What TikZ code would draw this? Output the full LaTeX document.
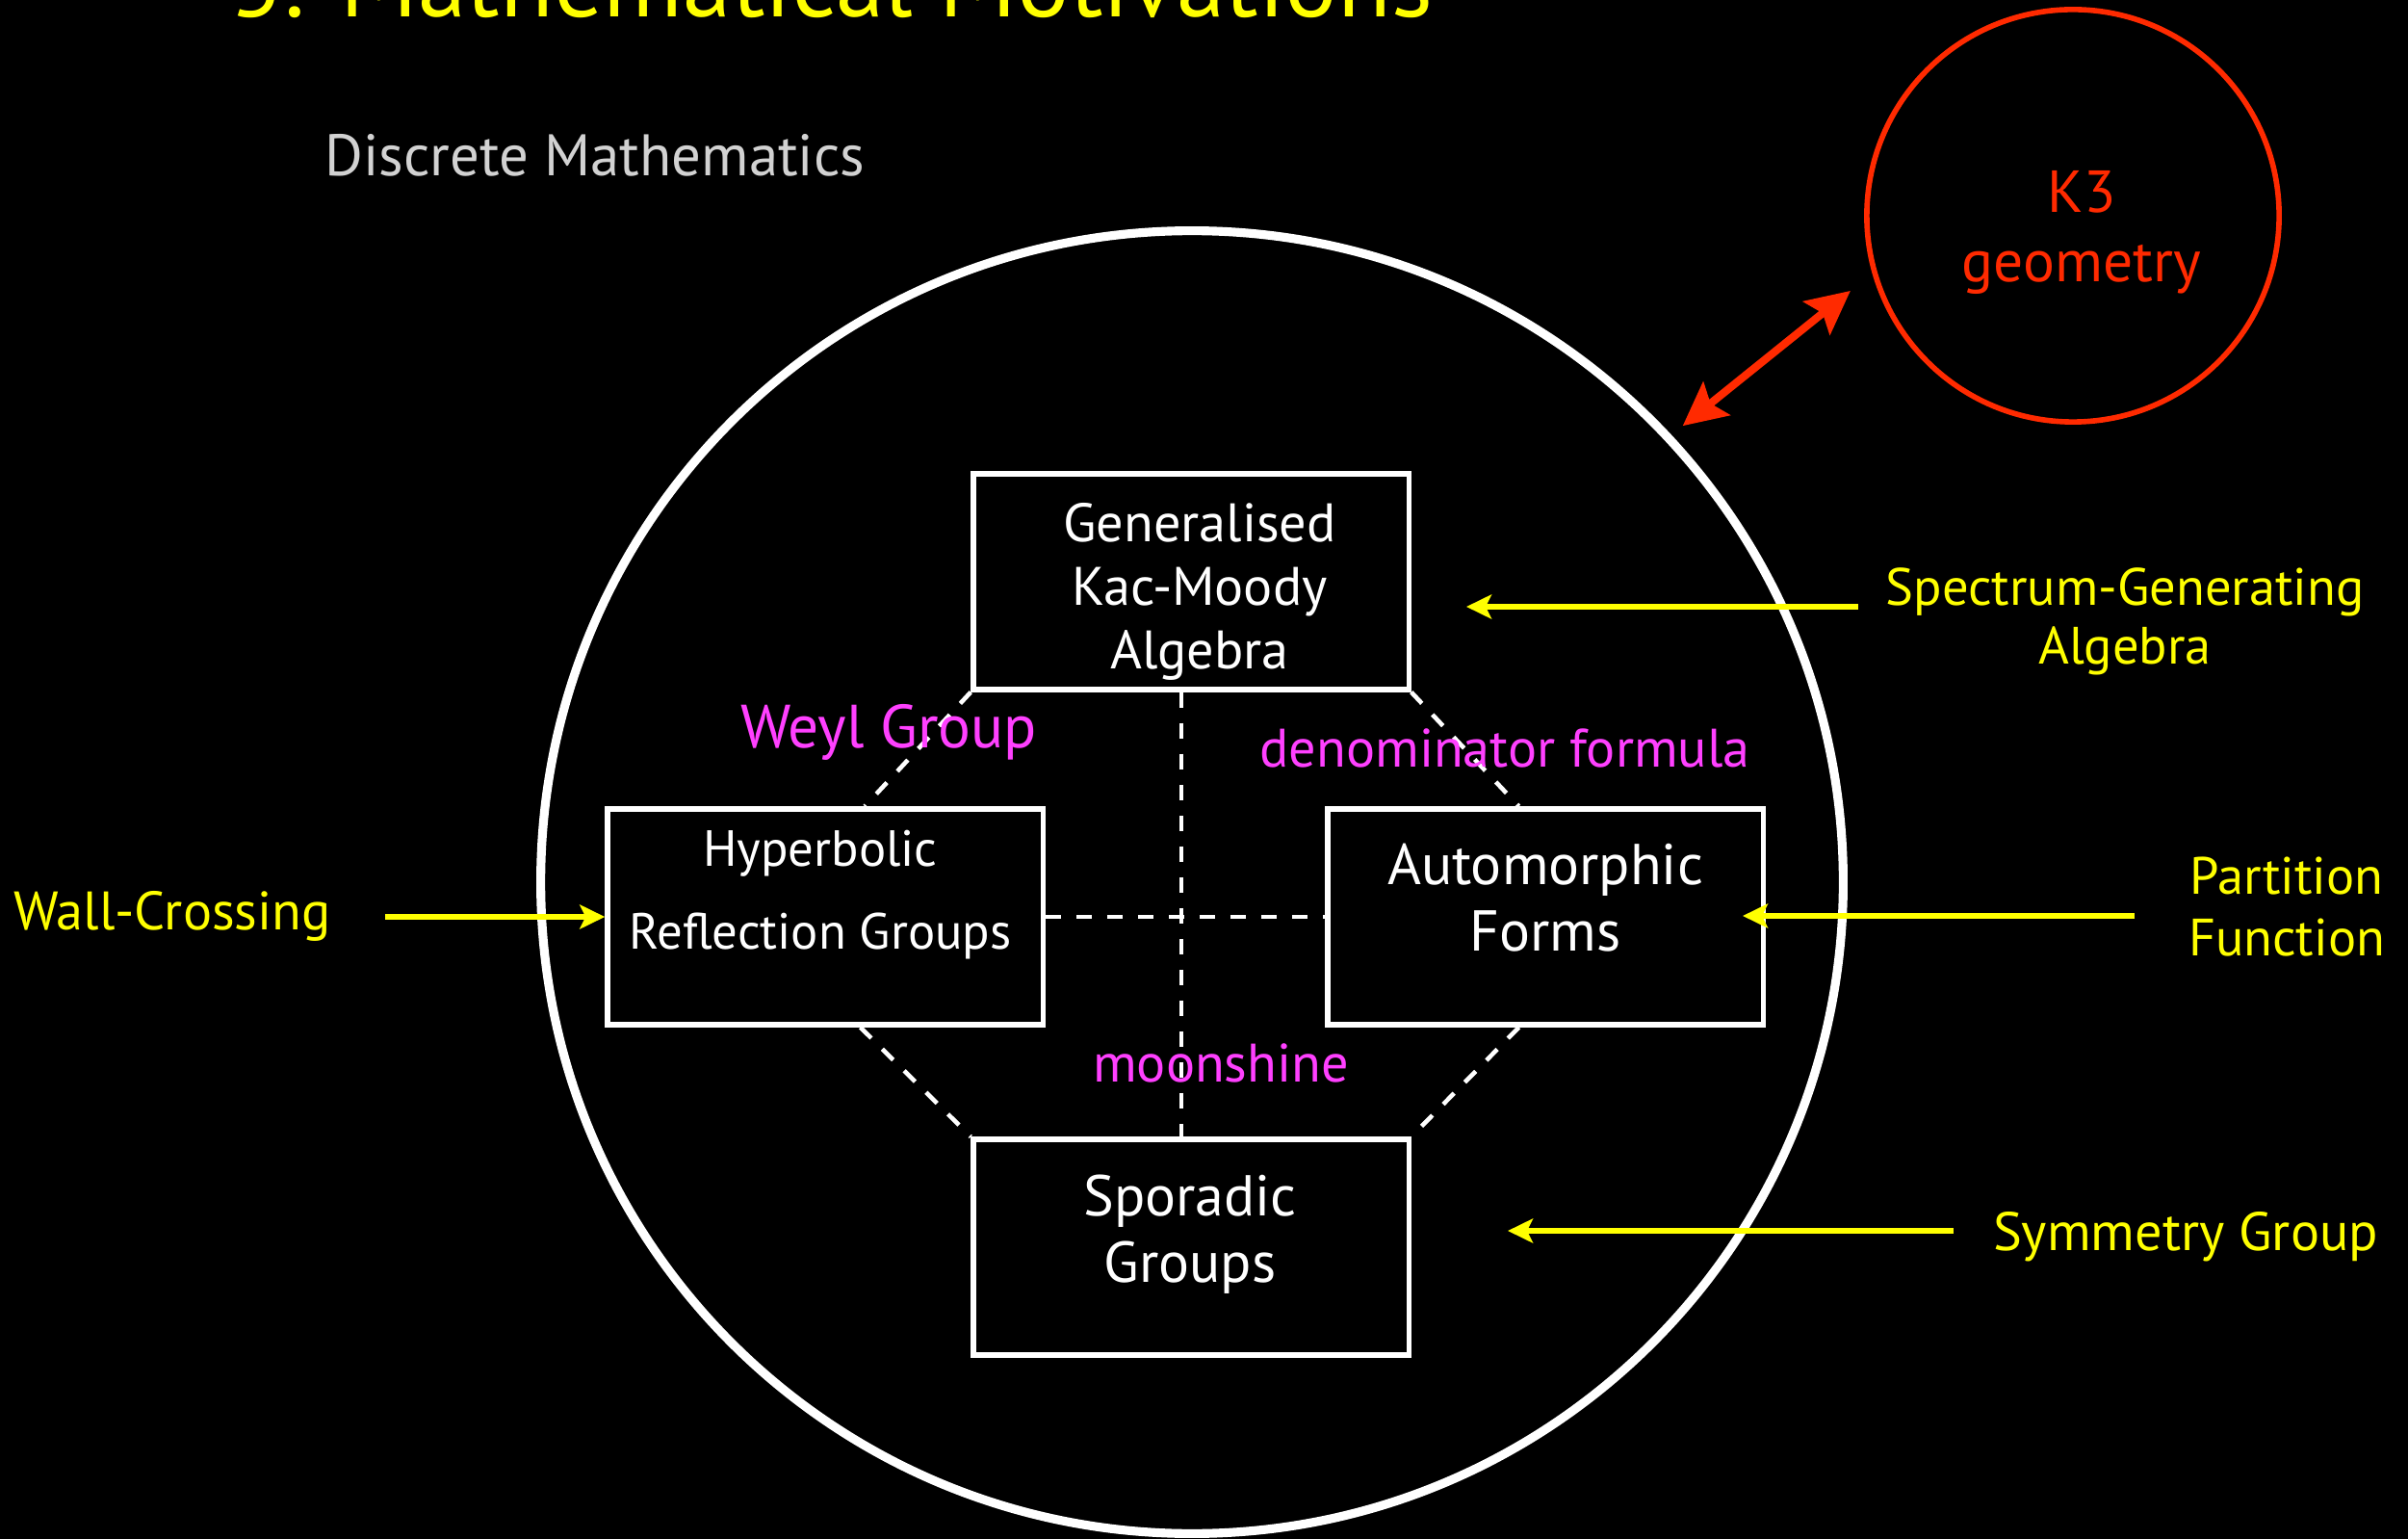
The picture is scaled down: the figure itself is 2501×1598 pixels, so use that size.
\documentclass[tikz,border=0pt]{standalone}
\usepackage{fontspec}
\setmainfont{PT Sans}
\usetikzlibrary{arrows.meta,calc}

\definecolor{giallo}{HTML}{FFFF00}
\definecolor{fucsia}{HTML}{FF40FF}
\definecolor{rosso}{HTML}{FF2A00}
\definecolor{grigio}{HTML}{D2D2D2}

\begin{document}
\begin{tikzpicture}[x=0.01cm, y=-0.01cm,
        every node/.style={text=white, inner sep=0pt},
        box/.style={draw=white, line width=1.5pt, minimum width=4.52cm, minimum height=2.24cm},
        boxtext/.style={anchor=base, align=center, font=\fontsize{16}{19}\selectfont},
        ylab/.style={anchor=base, text=giallo, align=center, font=\fontsize{16}{17.5}\selectfont},
        mlab/.style={anchor=base, text=fucsia, font=\fontsize{16}{16}\selectfont},
        tratt/.style={draw=white, line width=1.3pt, dash pattern=on 0.16cm off 0.16cm},
        yarrow/.style={draw=giallo, line width=1.7pt, -{Stealth[length=0.26cm, width=0.25cm, inset=0.06cm]}},
        k3arrow/.style={draw=rosso, line width=2.3pt, {Stealth[length=0.45cm, width=0.44cm, inset=0.08cm]}-{Stealth[length=0.45cm, width=0.44cm, inset=0.08cm]}}]

        \fill[black] (0,0) rectangle (2501,1598);
        \useasboundingbox (0,0) rectangle (2501,1598);

        % titolo e sottotitolo
        \node[anchor=base west, text=giallo, font=\fontsize{29}{29}\selectfont] (titolo) at (239,18) {5. Mathematical Motivations};
        \node[anchor=base, text=grigio, font=\fontsize{17.3}{17}\selectfont] (discreta) at (618,183) {Discrete Mathematics};

        % cerchi
        \node[circle, draw=white, line width=2.6pt, minimum size=13.52cm] (disc) at (1238,916) {};
        \node[circle, draw=rosso, line width=1.6pt, minimum size=4.28cm] (k3) at (2153,224) {};
        \node[anchor=base, text=rosso, align=center, font=\fontsize{17.5}{20.7}\selectfont] (k3t) at (2162,293) {K3\\geometry};

        % riquadri
        \node[box] (kac) at (1237,604) {};
        \node[box] (hyp) at (857,952) {};
        \node[box] (auto) at (1605,952) {};
        \node[box] (spor) at (1237,1295) {};

        \node[boxtext, font=\fontsize{16}{18.9}\selectfont] (kact) at (1246,695) {Generalised\\Kac-Moody\\Algebra};
        \node[boxtext, font=\fontsize{15}{24.2}\selectfont] (hypt) at (852,985) {Hyperbolic\\Reflection Groups};
        \node[boxtext, font=\fontsize{17}{19.6}\selectfont] (autot) at (1605,987) {Automorphic\\Forms};
        \node[boxtext, font=\fontsize{17}{19.6}\selectfont] (sport) at (1236,1331) {Sporadic\\Groups};

        % collegamenti tratteggiati
        \draw[tratt] (kac.south west) -- ($(hyp.north west)!0.59!(hyp.north east)$);
        \draw[tratt] (kac.south east) -- ($(auto.north west)!0.44!(auto.north east)$);
        \draw[tratt] ($(hyp.south west)!0.58!(hyp.south east)$) -- (spor.north west);
        \draw[tratt] ($(auto.south west)!0.44!(auto.south east)$) -- (spor.north east);
        \draw[tratt] ($(kac.south west)!0.478!(kac.south east)$) -- ($(spor.north west)!0.478!(spor.north east)$);
        \draw[tratt] (hyp.east) -- (auto.west);

        % etichette dei collegamenti
        \node[mlab, font=\fontsize{18}{18}\selectfont] (weyl) at (923,777) {Weyl Group};
        \node[mlab] (denom) at (1563,797) {denominator formula};
        \node[mlab] (moon) at (1268,1123) {moonshine};

        % etichette gialle
        \node[ylab, font=\fontsize{15.5}{17.6}\selectfont] (spec) at (2207,690) {Spectrum-Generating\\Algebra};
        \node[ylab, font=\fontsize{15.5}{18}\selectfont] (part) at (2375,992) {Partition\\Function};
        \node[ylab] (wall) at (179,965) {Wall-Crossing};
        \node[ylab] (symm) at (2270,1298) {Symmetry Group};

        % frecce
        \coordinate (sgcoda) at (1930,630);
        \coordinate (sgpunta) at (1523,630);
        \coordinate (pfcoda) at (2217,951);
        \coordinate (pfpunta) at (1810,951);
        \coordinate (wccoda) at (400,952);
        \coordinate (sycoda) at (2029,1278);
        \coordinate (sypunta) at (1566,1278);
        \draw[yarrow] (sgcoda) -- (sgpunta);
        \draw[yarrow] (pfcoda) -- (pfpunta);
        \draw[yarrow] (wccoda) -- (hyp.west);
        \draw[yarrow] (sycoda) -- (sypunta);
        \draw[k3arrow, shorten <=0.15cm, shorten >=0.29cm] (disc.43) -- (k3.196);
\end{tikzpicture}
\end{document}
